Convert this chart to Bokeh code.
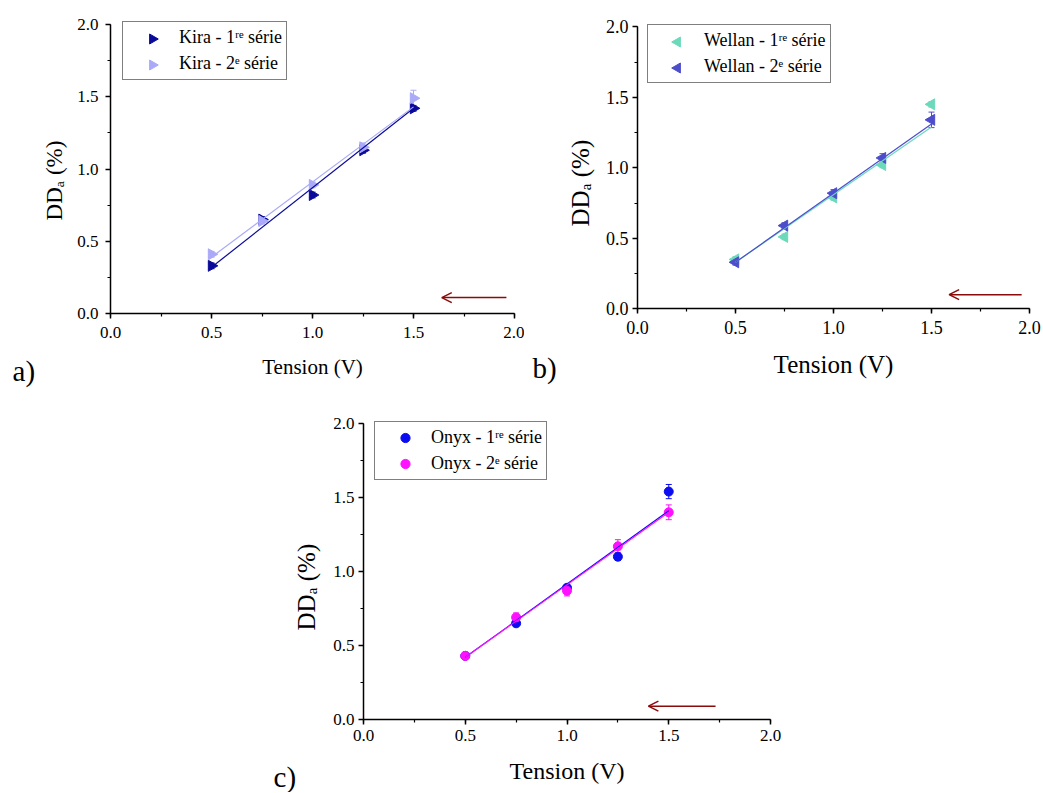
import numpy as np
from bokeh.plotting import figure
from bokeh.layouts import row, column
from bokeh.models import (ColumnDataSource, Whisker, TeeHead, Arrow, OpenHead, Label, Legend,
                          LegendItem, SingleIntervalTicker, PrintfTickFormatter, Range1d, Spacer,
                          LinearAxis)
from bokeh.embed import file_html
from bokeh.resources import INLINE

# ---------------- data ----------------
tension = [0.5, 0.75, 1.0, 1.25, 1.5]
fit_x = [0.5, 1.5]

kira_1 = [0.33, 0.65, 0.82, 1.13, 1.42]
kira_1_err = [0.02, 0.02, 0.02, 0.02, 0.02]
kira_1_fit = [0.32, 1.42]
kira_2 = [0.41, 0.64, 0.89, 1.15, 1.49]
kira_2_err = [0.02, 0.02, 0.02, 0.03, 0.055]
kira_2_fit = [0.39, 1.43]

wellan_1 = [0.35, 0.51, 0.79, 1.02, 1.45]
wellan_1_err = [0.02, 0.02, 0.02, 0.02, 0.02]
wellan_1_fit = [0.33, 1.29]
wellan_2 = [0.33, 0.59, 0.82, 1.07, 1.34]
wellan_2_err = [0.02, 0.02, 0.025, 0.03, 0.055]
wellan_2_fit = [0.33, 1.31]

onyx_1 = [0.43, 0.65, 0.89, 1.10, 1.54]
onyx_1_err = [0.015, 0.015, 0.02, 0.025, 0.048]
onyx_1_fit = [0.42, 1.41]
onyx_2 = [0.43, 0.69, 0.87, 1.17, 1.40]
onyx_2_err = [0.02, 0.03, 0.035, 0.045, 0.05]
onyx_2_fit = [0.42, 1.40]

labels_a = ["Kira - 1\u02b3\u1d49 s\u00e9rie", "Kira - 2\u1d49 s\u00e9rie"]
labels_b = ["Wellan - 1\u02b3\u1d49 s\u00e9rie", "Wellan - 2\u1d49 s\u00e9rie"]
labels_c = ["Onyx - 1\u02b3\u1d49 s\u00e9rie", "Onyx - 2\u1d49 s\u00e9rie"]

x_title = "Tension (V)"
y_title = "DD\u2090 (%)"

# arrows: (x_start, x_end, y)
arrow_a = [1.96, 1.64, 0.11]
arrow_b = [1.96, 1.59, 0.10]
arrow_c = [1.73, 1.40, 0.09]

FONT = "Liberation Serif"
ARROW_COLOR = "#8b0a0a"

# legend geometry (px)
LEG_PAD, LEG_GW, LEG_IH, LEG_SP = 4, 52, 23, 3
LEG_H = 2 * LEG_PAD + 2 * LEG_IH + LEG_SP


class Panel:
    """A figure whose frame is the whole canvas; axes are fixed at the data origin."""

    def __init__(self, fig_x0, fig_y0, fig_w, fig_h, ox, oy, sx, sy):
        self.xr0 = (fig_x0 - ox) / sx
        self.yr0 = (oy - (fig_y0 + fig_h)) / sy
        self.sx, self.sy = sx, sy
        self.p = figure(frame_width=fig_w, frame_height=fig_h,
                        x_range=Range1d(self.xr0, self.xr0 + fig_w / sx),
                        y_range=Range1d(self.yr0, self.yr0 + fig_h / sy),
                        output_backend="svg", toolbar_location=None,
                        x_axis_location=None, y_axis_location=None,
                        min_border=0, outline_line_color=None,
                        background_fill_color="white", border_fill_color="white")
        self.p.xgrid.visible = False
        self.p.ygrid.visible = False

    def px_to_data(self, px, py_from_bottom):
        return self.xr0 + px / self.sx, self.yr0 + py_from_bottom / self.sy


def make_axis(tick_fs, lab_fs, major_standoff, label_standoff, label):
    ax = LinearAxis(fixed_location=0, bounds=(0, 2))
    ax.ticker = SingleIntervalTicker(interval=0.5, num_minor_ticks=2)
    ax.formatter = PrintfTickFormatter(format="%.1f")
    ax.axis_label = label
    ax.axis_label_text_font = FONT
    ax.axis_label_text_font_size = f"{lab_fs}px"
    ax.axis_label_text_font_style = "normal"
    ax.axis_label_text_color = "black"
    ax.axis_label_standoff = label_standoff
    ax.major_label_text_font = FONT
    ax.major_label_text_font_size = f"{tick_fs}px"
    ax.major_label_text_color = "black"
    ax.major_label_standoff = major_standoff
    ax.axis_line_color = "black"
    ax.axis_line_width = 1.5
    ax.major_tick_line_color = "black"
    ax.major_tick_line_width = 1.5
    ax.minor_tick_line_color = "black"
    ax.minor_tick_line_width = 1.2
    ax.major_tick_out = 5
    ax.major_tick_in = 0
    ax.minor_tick_out = 3
    ax.minor_tick_in = 0
    return ax


def add_series(p, x, y, err, color, marker, angle, size):
    src = ColumnDataSource(dict(x=x, y=y,
                                lower=[a - e for a, e in zip(y, err)],
                                upper=[a + e for a, e in zip(y, err)]))
    p.add_layout(Whisker(source=src, base="x", lower="lower", upper="upper", dimension="height",
                         line_color=color, line_width=1,
                         upper_head=TeeHead(size=6, line_color=color, line_width=1),
                         lower_head=TeeHead(size=6, line_color=color, line_width=1),
                         level="underlay"))
    return p.scatter("x", "y", source=src, marker=marker, size=size, angle=angle,
                      fill_color=color, line_color=color)


def add_fit(p, vals, color):
    p.line(fit_x, vals, line_color=color, line_width=1.2)


def add_arrow(p, arr):
    p.add_layout(Arrow(end=OpenHead(size=10, line_color=ARROW_COLOR, line_width=1.5),
                       x_start=arr[0], y_start=arr[2], x_end=arr[1], y_end=arr[2],
                       line_color=ARROW_COLOR, line_width=1.5))


def add_legend(panel, renderers, labels, loc, colors=None, angle=0.0, size=11):
    p = panel.p
    rotated = colors is not None
    if rotated:
        # Legend draws blank keys; the rotated keys are drawn as a scatter below the
        # (transparent) legend box so the triangles keep their orientation.
        items_r = [p.scatter(x=[], y=[], marker="triangle", fill_alpha=0, line_alpha=0)
                   for _ in labels]
        kx, ky = [], []
        for i in range(len(labels)):
            px = loc[0] + LEG_PAD + LEG_GW / 2
            py = loc[1] + LEG_H - LEG_PAD - LEG_IH / 2 - i * (LEG_IH + LEG_SP)
            dx, dy = panel.px_to_data(px, py)
            kx.append(dx)
            ky.append(dy)
        p.scatter(kx, ky, marker="triangle", size=size - 1, angle=angle,
                  fill_color=colors, line_color=colors)
    else:
        items_r = renderers
    leg = Legend(items=[LegendItem(label=l, renderers=[r]) for l, r in zip(labels, items_r)],
                 location=loc, padding=LEG_PAD, spacing=LEG_SP, glyph_width=LEG_GW,
                 glyph_height=LEG_IH, label_height=LEG_IH, label_standoff=0,
                 label_text_font=FONT, label_text_font_size="18px", label_text_color="black",
                 border_line_color="black", border_line_width=1,
                 background_fill_color="white",
                 background_fill_alpha=0.0 if rotated else 1.0, margin=0)
    p.add_layout(leg)


def panel_label(p, x, y, text):
    p.add_layout(Label(x=x, y=y, text=text, text_font=FONT, text_font_size="29px",
                       text_baseline="middle", text_align="left", text_color="black"))


NB = "\u00a0"

# ---------------- panel a ----------------
A = Panel(0, 0, 524, 390, 110, 313, 202, 144.5)
pa = A.p
pa.add_layout(make_axis(17, 21, 8, 14, x_title), "below")
pa.add_layout(make_axis(17, 23, 7, 7, y_title + NB * 4), "left")
ra1 = add_series(pa, tension, kira_1, kira_1_err, "#0a0a9a", "triangle", -np.pi / 2, 11)
ra2 = add_series(pa, tension, kira_2, kira_2_err, "#aaaaf8", "triangle", -np.pi / 2, 11)
add_fit(pa, kira_1_fit, "#0a0a9a")
add_fit(pa, kira_2_fit, "#aaaaf8")
add_arrow(pa, arrow_a)
add_legend(A, [ra1, ra2], labels_a, (122, 310), colors=["#0a0a9a", "#aaaaf8"], angle=-np.pi / 2)
panel_label(pa, -0.485, -0.40, "a)")

# ---------------- panel b ----------------
B = Panel(524, 0, 519, 390, 637, 308.3, 196, 141)
pb = B.p
pb.add_layout(make_axis(18, 25, 7, 14, x_title), "below")
pb.add_layout(make_axis(18, 25, 4, 9, y_title + NB * 5), "left")
rb1 = add_series(pb, tension, wellan_1, wellan_1_err, "#6cd9bb", "triangle", np.pi / 2, 11)
rb2 = add_series(pb, tension, wellan_2, wellan_2_err, "#4d4dcc", "triangle", np.pi / 2, 11)
add_fit(pb, wellan_1_fit, "#6cd9bb")
add_fit(pb, wellan_2_fit, "#4d4dcc")
add_arrow(pb, arrow_b)
add_legend(B, [rb1, rb2], labels_b, (123, 307), colors=["#6cd9bb", "#4d4dcc"], angle=np.pi / 2)
panel_label(pb, -0.536, -0.423, "b)")

# ---------------- panel c ----------------
C = Panel(265, 390, 525, 402, 363, 719, 203.5, 148)
pc = C.p
pc.add_layout(make_axis(17, 24, 5, 14, x_title), "below")
pc.add_layout(make_axis(17, 25, 4, 10, y_title + NB * 5), "left")
rc1 = add_series(pc, tension, onyx_1, onyx_1_err, "#0c0cf0", "circle", 0, 9)
rc2 = add_series(pc, tension, onyx_2, onyx_2_err, "#ff10ff", "circle", 0, 9)
add_fit(pc, onyx_1_fit, "#0c0cf0")
add_fit(pc, onyx_2_fit, "#ff10ff")
add_arrow(pc, arrow_c)
add_legend(C, [rc1, rc2], labels_c, (109, 312))
panel_label(pc, -0.442, -0.39, "c)")

layout = column(row(pa, pb), row(Spacer(width=265, height=1), pc))

open("out.html", "w").write(file_html(layout, INLINE))
